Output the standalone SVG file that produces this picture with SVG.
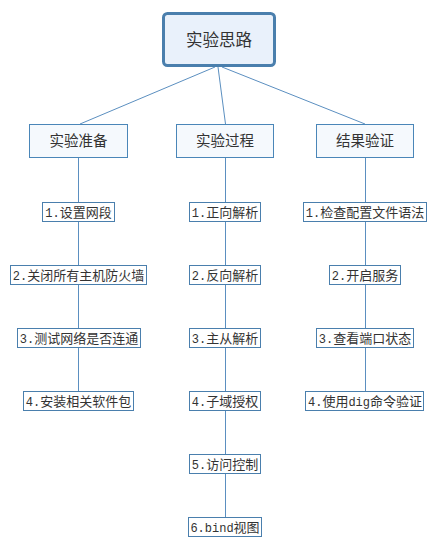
<svg xmlns="http://www.w3.org/2000/svg" width="437" height="550" viewBox="0 0 437 550">
<style>
text{font-family:"Noto Sans CJK SC","Noto Sans",sans-serif;fill:#333;text-anchor:middle}
.t0{font-size:16.5px}
.t1{font-size:14.5px}
.t2{font-size:13px}
.a{font-family:"Liberation Mono","DejaVu Sans Mono",monospace;font-size:12px}
.root{fill:#e9f1fb;stroke:#4a7fad;stroke-width:3}
.l1{fill:#f5f9fd;stroke:#4a86b8;stroke-width:1}
.l2{fill:#fff;stroke:#4a7fad;stroke-width:1}
.c{stroke:#5b8fc0;stroke-width:1;fill:none}
</style>
<rect width="437" height="550" fill="#fff"/>
<g id="connectors">
<line class="c" x1="215" y1="67" x2="80" y2="124"/>
<line class="c" x1="218" y1="67" x2="225.5" y2="124"/>
<line class="c" x1="222" y1="67" x2="365" y2="124"/>
<line class="c" x1="78.5" y1="158" x2="78.5" y2="391"/>
<line class="c" x1="225.5" y1="158" x2="225.5" y2="517"/>
<line class="c" x1="365.5" y1="158" x2="365.5" y2="391"/>
</g>
<g id="root"><rect class="root" x="163.5" y="13.5" width="111" height="52" rx="4"/><text class="t0" x="219" y="45.5">实验思路</text></g>
<g id="prep"><rect class="l1" x="29.5" y="124.5" width="98" height="33"/><text class="t1" x="78.5" y="146">实验准备</text></g>
<g id="proc"><rect class="l1" x="176.5" y="124.5" width="97" height="33"/><text class="t1" x="225" y="146">实验过程</text></g>
<g id="verify"><rect class="l1" x="316.5" y="124.5" width="97" height="33"/><text class="t1" x="365" y="146">结果验证</text></g>

<g id="p1"><rect class="l2" x="42.5" y="202.5" width="72" height="19"/><text class="t2" x="78.5" y="216.5"><tspan class="a">1.</tspan>设置网段</text></g>
<g id="p2"><rect class="l2" x="10.5" y="265.5" width="136" height="19"/><text class="t2" x="78.5" y="279.5"><tspan class="a">2.</tspan>关闭所有主机防火墙</text></g>
<g id="p3"><rect class="l2" x="17.5" y="328.5" width="123" height="19"/><text class="t2" x="79" y="342.5"><tspan class="a">3.</tspan>测试网络是否连通</text></g>
<g id="p4"><rect class="l2" x="23.5" y="391.5" width="110" height="19"/><text class="t2" x="78.5" y="405.5"><tspan class="a">4.</tspan>安装相关软件包</text></g>

<g id="r1"><rect class="l2" x="189.5" y="202.5" width="71" height="19"/><text class="t2" x="225" y="216.5"><tspan class="a">1.</tspan>正向解析</text></g>
<g id="r2"><rect class="l2" x="189.5" y="265.5" width="71" height="19"/><text class="t2" x="225" y="279.5"><tspan class="a">2.</tspan>反向解析</text></g>
<g id="r3"><rect class="l2" x="189.5" y="328.5" width="71" height="19"/><text class="t2" x="225" y="342.5"><tspan class="a">3.</tspan>主从解析</text></g>
<g id="r4"><rect class="l2" x="189.5" y="391.5" width="71" height="19"/><text class="t2" x="225" y="405.5"><tspan class="a">4.</tspan>子域授权</text></g>
<g id="r5"><rect class="l2" x="189.5" y="454.5" width="71" height="19"/><text class="t2" x="225" y="468.5"><tspan class="a">5.</tspan>访问控制</text></g>
<g id="r6"><rect class="l2" x="188.5" y="517.5" width="73" height="19"/><text class="t2" x="225" y="531.5"><tspan class="a">6.bind</tspan>视图</text></g>

<g id="v1"><rect class="l2" x="303.5" y="202.5" width="123" height="19"/><text class="t2" x="365" y="216.5"><tspan class="a">1.</tspan>检查配置文件语法</text></g>
<g id="v2"><rect class="l2" x="329.5" y="265.5" width="71" height="19"/><text class="t2" x="365" y="279.5"><tspan class="a">2.</tspan>开启服务</text></g>
<g id="v3"><rect class="l2" x="316.5" y="328.5" width="97" height="19"/><text class="t2" x="365" y="342.5"><tspan class="a">3.</tspan>查看端口状态</text></g>
<g id="v4"><rect class="l2" x="305.5" y="391.5" width="118" height="19"/><text class="t2" x="365" y="405.5"><tspan class="a">4.</tspan>使用<tspan class="a">dig</tspan>命令验证</text></g>
</svg>
